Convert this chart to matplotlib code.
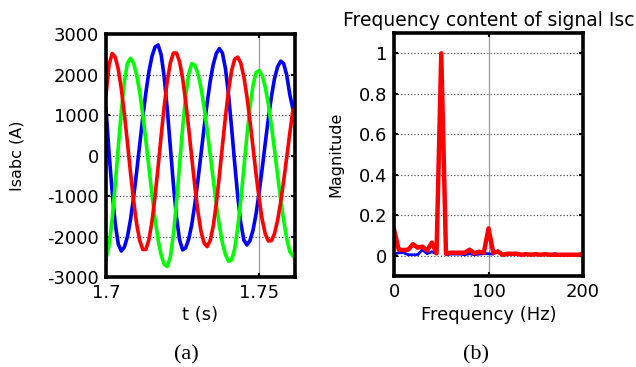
import numpy as np
import matplotlib
matplotlib.use("Agg")
import matplotlib.pyplot as plt
from matplotlib.ticker import FixedLocator, FuncFormatter

plt.rcParams['axes.unicode_minus'] = False
plt.rcParams['font.family'] = 'DejaVu Sans'

# stator currents, sampled every 1 ms from t = 1.700 s
t0, dt = 1.700, 0.001
isa = [1500, 2250, 2520, 2430, 2130, 1640, 1020, 310, -430, -1110,
       -1690, -2100, -2320, -2320, -2080, -1630, -1010, -280, 490, 1220,
       1840, 2290, 2530, 2530, 2320, 1910, 1340, 660, -60, -770,
       -1380, -1870, -2160, -2250, -2100, -1740, -1190, -500, 250, 970,
       1620, 2100, 2380, 2430, 2280, 1940, 1450, 850, 190, -480,
       -1080, -1590, -1940, -2110, -2100, -1930, -1600, -1160, -620, -40,
       560, 1120]
isb = [1150, 50, -890, -1680, -2190, -2360, -2260, -2000, -1580, -1030,
       -400, 270, 940, 1550, 2070, 2450, 2680, 2730, 2490, 1930,
       1140, 210, -720, -1520, -2080, -2330, -2280, -2060, -1700, -1200,
       -610, 30, 680, 1290, 1830, 2250, 2520, 2640, 2530, 2140,
       1490, 680, -190, -1010, -1670, -2090, -2210, -2100, -1840, -1430,
       -900, -310, 320, 920, 1460, 1900, 2190, 2330, 2270, 1980,
       1500, 1150]
isc = [-2550, -2210, -1570, -720, 210, 1100, 1830, 2280, 2400, 2280,
       1990, 1560, 1010, 380, -300, -960, -1570, -2080, -2460, -2690,
       -2740, -2500, -1940, -1160, -240, 680, 1470, 2020, 2270, 2230,
       2020, 1670, 1200, 650, 30, -590, -1200, -1730, -2160, -2450,
       -2610, -2580, -2300, -1780, -1090, -300, 490, 1200, 1740, 2050,
       2100, 1970, 1680, 1260, 730, 140, -480, -1080, -1610, -2060,
       -2370, -2480]

# normalised spectrum, 5 Hz resolution, 0..200 Hz
freq_step = 5
mag_red = [0.13, 0.03, 0.028, 0.03, 0.057, 0.04, 0.045, 0.025, 0.065, 0.012,
           1.0, 0.01, 0.015, 0.015, 0.015, 0.015, 0.03, 0.012, 0.02, 0.015,
           0.135, 0.015, 0.02, 0.005, 0.01, 0.01, 0.01, 0.005, 0.008, 0.005,
           0.008, 0.005, 0.008, 0.005, 0.005, 0.005, 0.005, 0.005, 0.005, 0.005,
           0.008]
mag_blue = [0.008, 0.015, 0.015, 0.005, 0.005, 0.005, 0.03, 0.01, 0.02, 0.01,
            1.0, 0.005, 0.008, 0.008, 0.008, 0.005, 0.01, 0.005, 0.008, 0.01,
            0.01, 0.008, 0.025, 0.005, 0.005, 0.005, 0.005, 0.005, 0.005, 0.005,
            0.005, 0.005, 0.005, 0.005, 0.01, 0.005, 0.005, 0.005, 0.005, 0.005,
            0.005]

t = t0 + dt * np.arange(len(isa))
f = freq_step * np.arange(len(mag_red))

fig = plt.figure(figsize=(6.36, 3.67), dpi=100)
ax1 = fig.add_axes([0.1667, 0.2452, 0.2972, 0.6621])
ax2 = fig.add_axes([0.6195, 0.2480, 0.2972, 0.6620])


def matlab_style(ax):
    for s in ax.spines.values():
        s.set_linewidth(2.6)
        s.set_color('black')
    ax.tick_params(direction='in', top=True, right=True, length=3, width=1.5,
                   labelsize=13, pad=5)
    ax.yaxis.grid(True, linestyle=':', color='#555555', linewidth=0.9)
    ax.xaxis.grid(True, linestyle='-', color='#999999', linewidth=0.9)
    ax.set_axisbelow(True)


# (a) currents
ax1.plot(t, isb, color='#0000ff', lw=2.6)
ax1.plot(t, isc, color='#00ff00', lw=2.6)
ax1.plot(t, isa, color='#ff0000', lw=2.6)
ax1.set_xlim(1.7, 1.7617)
ax1.set_ylim(-3000, 3000)
ax1.xaxis.set_major_locator(FixedLocator([1.7, 1.75]))
ax1.xaxis.set_major_formatter(FuncFormatter(lambda v, p: '%g' % v))
ax1.yaxis.set_major_locator(FixedLocator(np.arange(-3000, 3001, 1000)))
matlab_style(ax1)
ax1.set_xlabel('t (s)', fontsize=13)
ax1.set_ylabel('Isabc (A)', fontsize=11.5)
ax1.yaxis.set_label_coords(-0.43, 0.5)
ax1.xaxis.set_label_coords(0.5, -0.12)
ax1.xaxis.label.set_va('top')

# (b) spectrum
ax2.plot(f, mag_blue, color='#0000ff', lw=2.0)
ax2.plot(f, mag_red, color='#ff0000', lw=3.2)
ax2.set_xlim(0, 200)
ax2.set_ylim(-0.1, 1.1)
ax2.xaxis.set_major_locator(FixedLocator([0, 100, 200]))
ax2.yaxis.set_major_locator(FixedLocator([0, 0.2, 0.4, 0.6, 0.8, 1.0]))
ax2.yaxis.set_major_formatter(FuncFormatter(lambda v, p: '%g' % v))
matlab_style(ax2)
ax2.set_title('Frequency content of signal Isc', fontsize=13.5, pad=5)
ax2.set_xlabel('Frequency (Hz)', fontsize=13)
ax2.set_ylabel('Magnitude', fontsize=11.5)
ax2.yaxis.set_label_coords(-0.27, 0.5)
ax2.xaxis.set_label_coords(0.5, -0.125)
ax2.xaxis.label.set_va('top')

fig.text(186 / 636, 1 - 355 / 367, '(a)', ha='center', va='center',
         fontsize=16, family='Liberation Serif')
fig.text(476 / 636, 1 - 355 / 367, '(b)', ha='center', va='center',
         fontsize=16, family='Liberation Serif')

fig.savefig('out.png', dpi=100)
